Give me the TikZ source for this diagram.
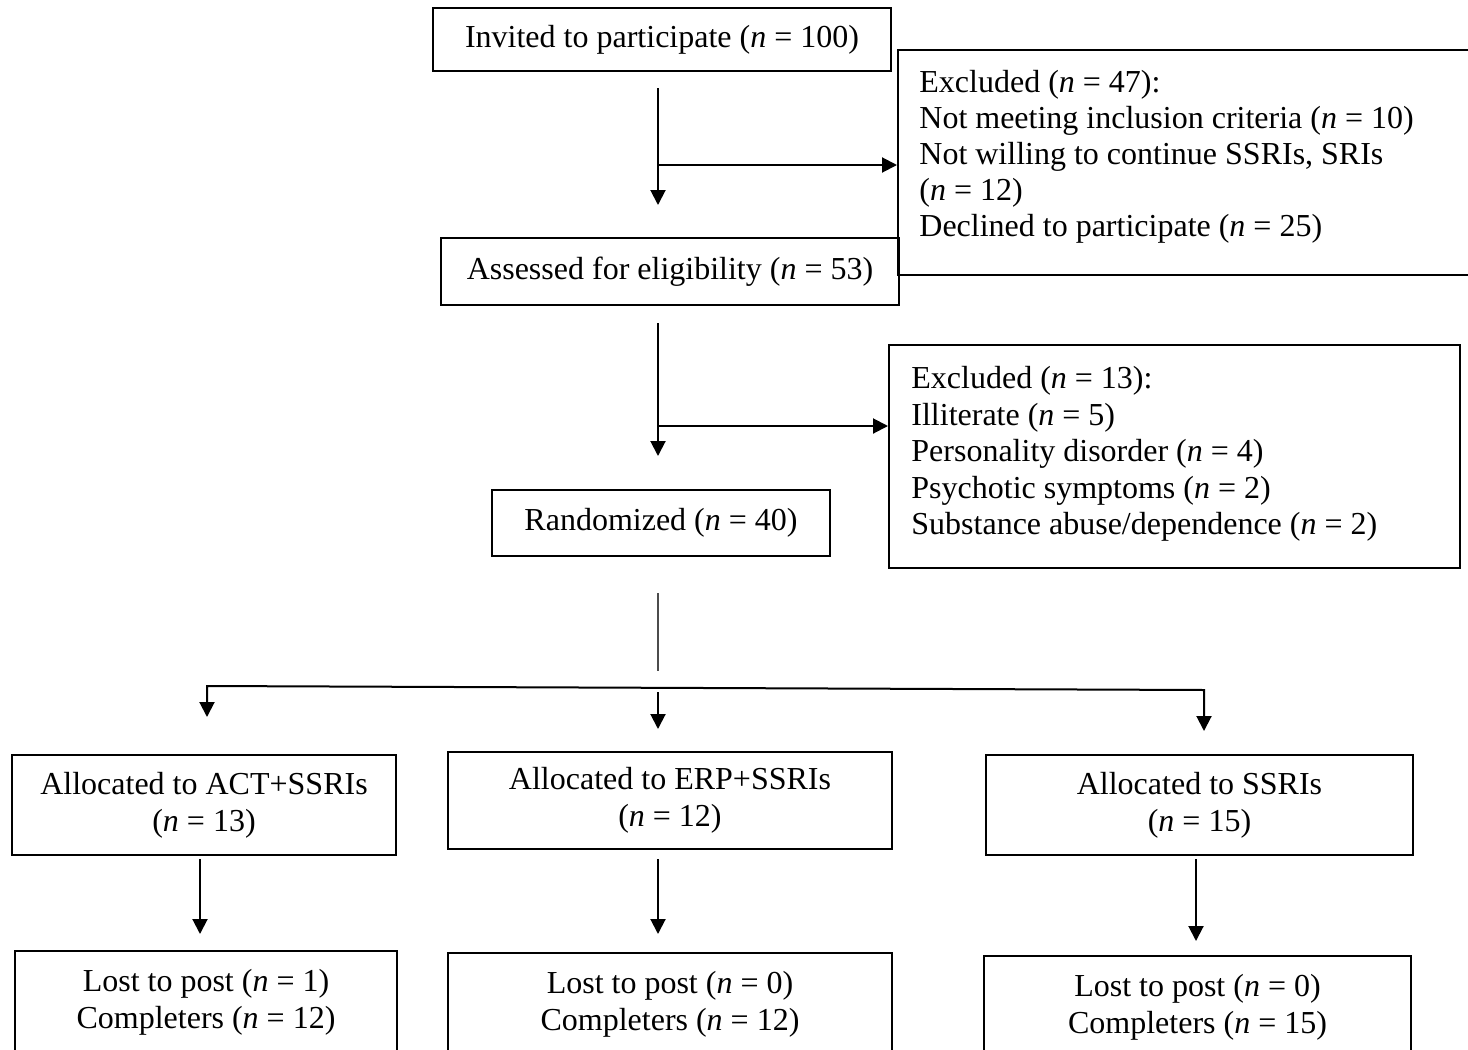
\documentclass[tikz,border=0pt]{standalone}
\usepackage{fontspec}
\setmainfont{Liberation Serif}
\usetikzlibrary{arrows.meta}
\newcommand{\nv}{\textit{n}}
\begin{document}
\begin{tikzpicture}[x=0.5pt,y=-0.5pt,
  box/.style={draw, line width=1pt, inner sep=0pt, align=center, font=\fontsize{16}{18.5}\selectfont},
  txt/.style={inner sep=0pt, align=left, anchor=north west, font=\fontsize{16}{18.25}\selectfont},
  arr/.style={line width=1pt, -{Triangle[length=7.5pt,width=7.5pt]}},
  arrtwo/.style={line width=1pt, {Triangle[length=7.5pt,width=7.5pt]}-{Triangle[length=7.5pt,width=7.5pt]}},
  thinln/.style={line width=0.85pt, black!70}]
\useasboundingbox (0,0) rectangle (1468,1050);
\clip (0,0) rectangle (1468,1050);

% helper x positions
\coordinate (xm) at (658,0);
\coordinate (xa) at (200,0);
\coordinate (xs) at (1196,0);

% boxes
\node[box, minimum width=229pt, minimum height=31.5pt] (inv) at (662,39.5) {Invited to participate (\nv{} = 100)};
\node[box, minimum width=351pt, minimum height=112.25pt] (ex1) at (1249,162.25) {};
\node[txt, font=\fontsize{16}{18}\selectfont] (ex1t) at (919,70) {Excluded (\nv{} = 47):\\Not meeting inclusion criteria (\nv{} = 10)\\Not willing to continue SSRIs, SRIs\\(\nv{} = 12)\\Declined to participate (\nv{} = 25)};
\node[box, minimum width=229pt, minimum height=33.5pt] (ass) at (670,271.5) {Assessed for eligibility (\nv{} = 53)};
\node[box, minimum width=285.5pt, minimum height=111.5pt] (ex2) at (1174.5,456.5) {};
\node[txt] (ex2t) at (911,366) {Excluded (\nv{} = 13):\\Illiterate (\nv{} = 5)\\Personality disorder (\nv{} = 4)\\Psychotic symptoms (\nv{} = 2)\\Substance abuse/dependence (\nv{} = 2)};
\node[box, minimum width=169pt, minimum height=33pt] (rand) at (661,523) {Randomized (\nv{} = 40)};
\node[box, minimum width=192pt, minimum height=50pt] (act) at (204,805) {Allocated to ACT+SSRIs\\(\nv{} = 13)};
\node[box, minimum width=222pt, minimum height=48.5pt] (erp) at (670,800.5) {Allocated to ERP+SSRIs\\(\nv{} = 12)};
\node[box, minimum width=213.5pt, minimum height=50pt] (ssr) at (1199.5,805) {Allocated to SSRIs\\(\nv{} = 15)};
\node[box, minimum width=191pt, minimum height=51pt] (l1) at (206,1002) {Lost to post (\nv{} = 1)\\Completers (\nv{} = 12)};
\node[box, minimum width=222pt, minimum height=51pt] (l2) at (670,1004) {Lost to post (\nv{} = 0)\\Completers (\nv{} = 12)};
\node[box, minimum width=213.5pt, minimum height=51pt] (l3) at (1197.5,1007) {Lost to post (\nv{} = 0)\\Completers (\nv{} = 15)};

% connectors
\draw[arr, shorten <=8pt, shorten >=16pt] (inv.south -| xm) -- (ass.north -| xm);
\coordinate (j1) at (658,165);
\draw[arr] (j1) -- (j1 -| ex1.west);

\draw[arr, shorten <=8.5pt, shorten >=16.5pt] (ass.south -| xm) -- (rand.north -| xm);
\coordinate (j2) at (658,426);
\draw[arr] (j2) -- (j2 -| ex2.west);

\coordinate (r2) at (658,671);
\draw[thinln, shorten <=18pt] (rand.south -| xm) -- (r2);

\coordinate (sl) at (207,686);
\coordinate (sr) at (1204,690);
\coordinate (sc) at (658,692);
\draw[arrtwo, shorten <=18.5pt, shorten >=11.5pt] (sl |- act.north) -- (sl) -- (sr) -- (sr |- ssr.north);
\draw[arr, shorten >=11pt] (sc) -- (sc |- erp.north);

\draw[arr, shorten <=1.5pt, shorten >=8pt] (act.south -| xa) -- (l1.north -| xa);
\draw[arr, shorten <=4.5pt, shorten >=9pt] (erp.south -| xm) -- (l2.north -| xm);
\draw[arr, shorten <=1.5pt, shorten >=7pt] (ssr.south -| xs) -- (l3.north -| xs);
\end{tikzpicture}
\end{document}
